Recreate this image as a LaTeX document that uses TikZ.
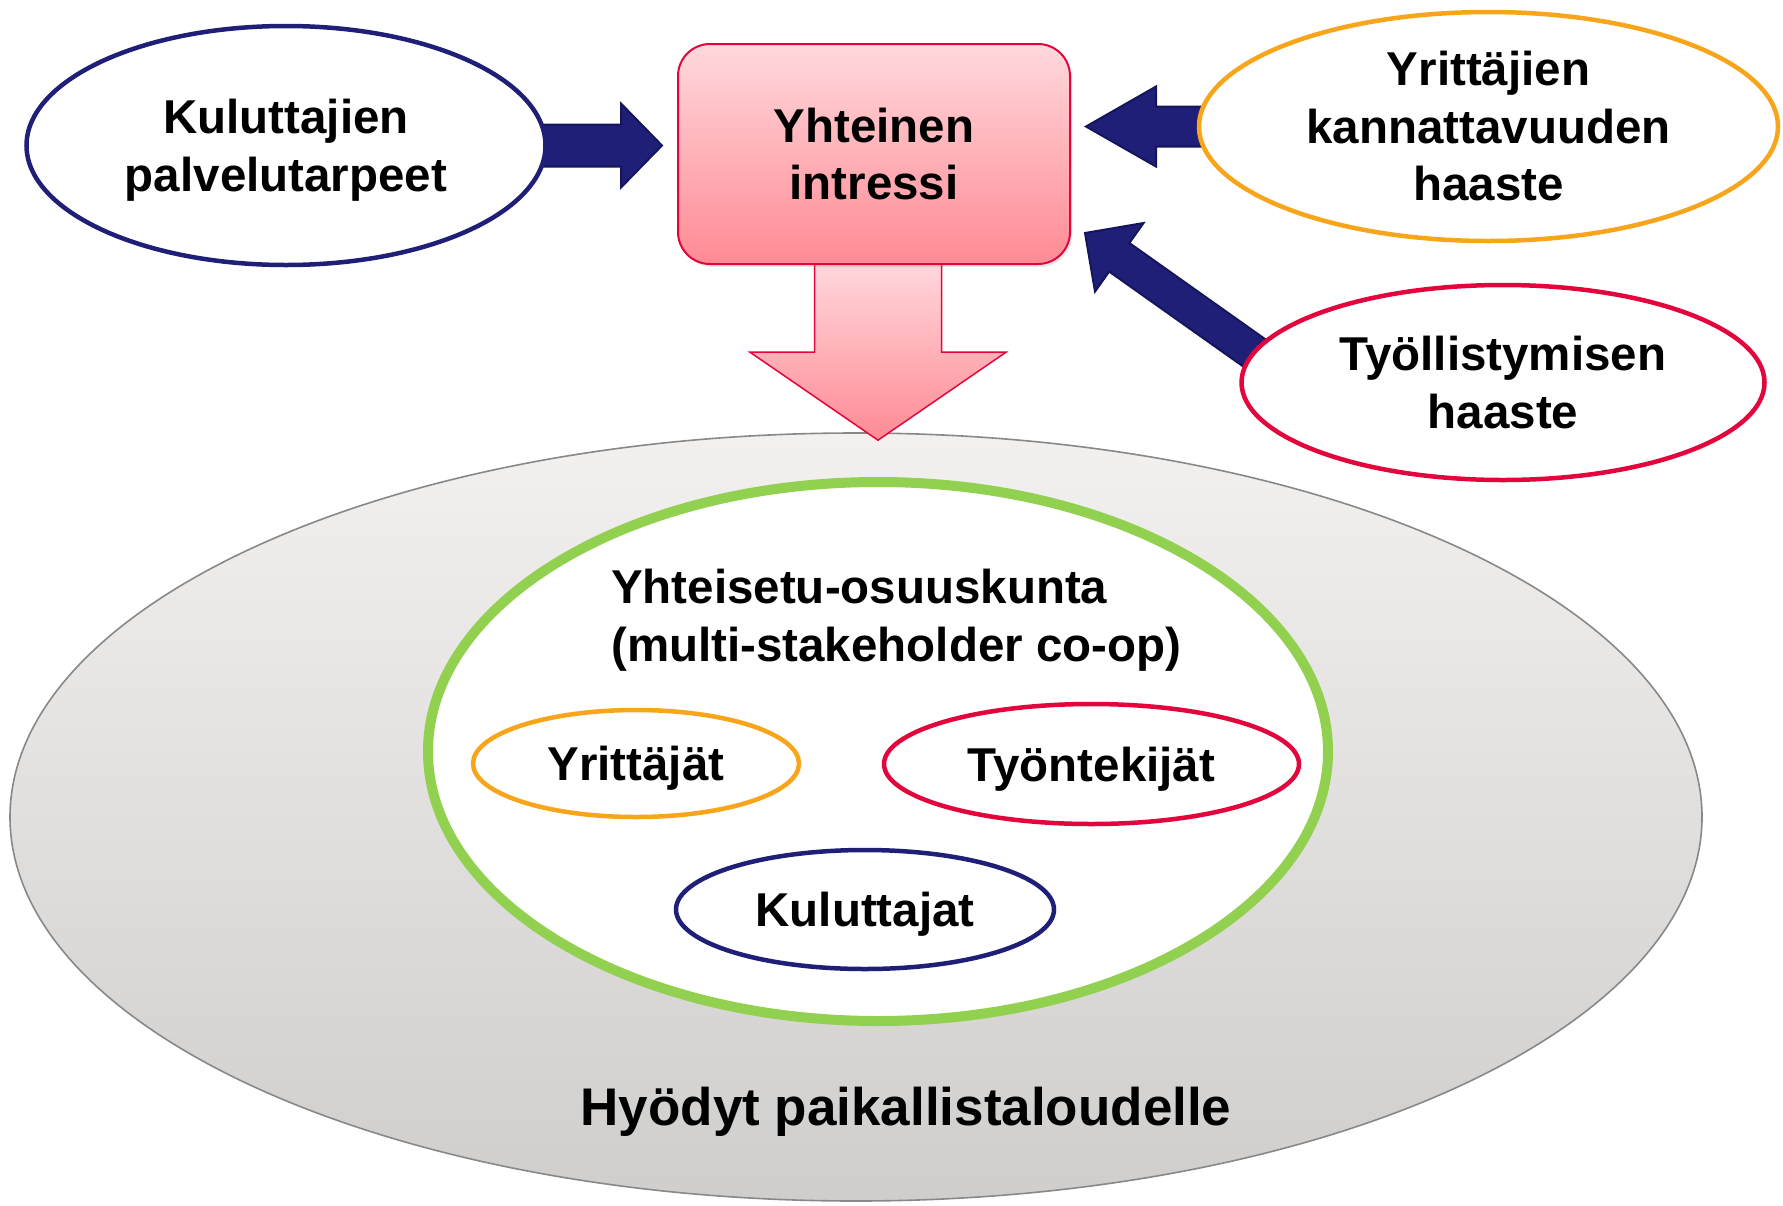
\documentclass[tikz,border=0pt]{standalone}
\usepackage{fontspec}
\setmainfont{Liberation Sans}
\usetikzlibrary{shapes.geometric,calc,shadows}
\definecolor{navyA}{HTML}{1F1F78}
\definecolor{navyB}{HTML}{15155C}
\definecolor{orangeA}{HTML}{F8A51C}
\definecolor{redA}{HTML}{E2063D}
\definecolor{greenA}{HTML}{92D050}
\definecolor{pinkTop}{HTML}{FFD9DD}
\definecolor{pinkBot}{HTML}{FF8A94}
\definecolor{grayTop}{HTML}{F2F1EF}
\definecolor{grayBot}{HTML}{CFCECC}
\definecolor{grayLine}{HTML}{888888}
\pgfdeclarelayer{back}
\pgfdeclarelayer{mid}
\pgfsetlayers{back,mid,main}
% #1 start coordinate, #2 tip coordinate, #3 shaft half width, #4 head half width, #5 head length, #6 style
\newcommand\blkarrow[6]{%
  \path (#2) coordinate (ba-t) ($(#2)!#5!(#1)$) coordinate (ba-h) (#1) coordinate (ba-a);
  \path[#6] ($(ba-a)!#3!90:(ba-t)$) -- ($(ba-h)!#3!90:(ba-t)$) -- ($(ba-h)!#4!90:(ba-t)$)
    -- (ba-t) -- ($(ba-h)!#4!-90:(ba-t)$) -- ($(ba-h)!#3!-90:(ba-t)$) -- ($(ba-a)!#3!-90:(ba-t)$) -- cycle;
}
\begin{document}
\begin{tikzpicture}[x=1pt,y=-1pt,
  ell/.style={ellipse, inner sep=0pt, fill=white, line width=4.5pt, align=center},
  lbl/.style={font=\fontsize{47.5}{57.5}\selectfont\bfseries},
  navyarrow/.style={fill=navyA, draw=navyB, line width=2pt, line join=miter},
  pinkarrow/.style={draw=redA, line width=1.5pt, top color=pinkTop, bottom color=pinkBot, line join=miter}]
\useasboundingbox (0,0) rectangle (1783,1205);

\begin{pgfonlayer}{back}
\node[ellipse, draw=grayLine, line width=1.6pt, top color=grayTop, bottom color=grayBot,
  minimum width=1692pt, minimum height=768pt, inner sep=0pt] (hyo) at (856,817) {};
\end{pgfonlayer}

\node[font=\fontsize{53}{60}\selectfont\bfseries, anchor=base, inner sep=0pt] (hyotxt) at (906,1125) {Hyödyt paikallistaloudelle};

\node[ell, draw=greenA, line width=10pt, minimum width=900pt, minimum height=539pt] (grn) at (878,751.5) {};
\node[lbl, anchor=west, inner sep=0pt, align=left] (cooptxt) at (611,620) {Yhteisetu-osuuskunta\\(multi-stakeholder co-op)};

\node[ell, lbl, draw=orangeA, minimum width=326pt, minimum height=107pt, text depth=0pt] (yrj) at (636,763.5) {Yrittäjät};
\node[ell, lbl, draw=redA, minimum width=415pt, minimum height=120pt, text depth=0pt] (tyt) at (1091.5,764) {Työntekijät};
\node[ell, lbl, draw=navyA, minimum width=378pt, minimum height=119pt, text depth=0pt] (kuj) at (865,909.5) {Kuluttajat};

\node[ell, lbl, draw=navyA, minimum width=519pt, minimum height=239pt] (kul) at (286,145.5) {Kuluttajien\\\raisebox{0pt}[\height][0pt]{palvelutarpeet}};
\node[lbl, align=center, draw=redA, line width=2pt, rounded corners=32pt, top color=pinkTop, bottom color=pinkBot,
  minimum width=392pt, minimum height=220pt, inner sep=0pt,
  drop shadow={shadow xshift=2pt, shadow yshift=-3pt, opacity=0.2}] (box) at (874,154) {Yhteinen\\intressi};
\node[ell, lbl, draw=orangeA, minimum width=579pt, minimum height=229pt] (yri) at (1488.5,126.5) {Yrittäjien\\kannattavuuden\\haaste};
\node[ell, lbl, draw=redA, minimum width=523pt, minimum height=195pt] (tyo) at (1503,382.5) {Työllistymisen\\haaste};

\begin{pgfonlayer}{mid}
\coordinate (a1) at ($(kul.east)+(-10,0)$);
\coordinate (t1) at ($(box.west |- kul.east)+(-15,0)$);
\blkarrow{a1}{t1}{21pt}{42pt}{41pt}{navyarrow}
\coordinate (a2) at ($(yri.west)+(15,0)$);
\coordinate (t2) at ($(box.east |- yri.west)+(15,0)$);
\blkarrow{a2}{t2}{20pt}{40pt}{70pt}{navyarrow}
\coordinate (a3) at ($(tyo.west)+(30,-19)$);
\coordinate (t3) at ($(box.south east)+(14,-32)$);
\blkarrow{a3}{t3}{17.5pt}{42pt}{42pt}{navyarrow}
\coordinate (a4) at ($(box.south)+(4,-5)$);
\coordinate (t4) at ($(box.south |- hyo.north)+(4,8)$);
\blkarrow{a4}{t4}{63.5pt}{128pt}{88pt}{pinkarrow}
\end{pgfonlayer}
\end{tikzpicture}
\end{document}
